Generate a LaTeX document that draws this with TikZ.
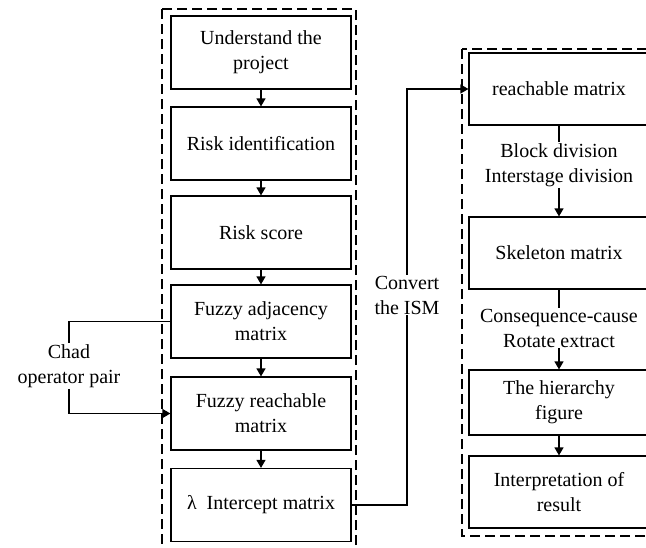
\documentclass[tikz,border=0pt]{standalone}
\usepackage{fontspec}
\setmainfont{Liberation Serif}
\usetikzlibrary{positioning,arrows.meta}

\tikzset{
  stage/.style={draw, line width=1.2pt, minimum width=180pt, minimum height=73pt,
    align=center, inner sep=2pt, font=\fontsize{20}{25}\selectfont},
  note/.style={align=center, inner sep=1pt, font=\fontsize{20}{25}\selectfont},
  link/.style={line width=1.2pt, -{Triangle[length=8pt,width=9pt]}},
  plain/.style={line width=1.2pt},
  frame/.style={line width=1.2pt, dash pattern=on 10pt off 5pt},
}

\begin{document}
\begin{tikzpicture}[x=1pt, y=-1pt]
	\clip (0,0) rectangle (646,547);
	% left column
	\node[stage] (project) at (261,52.5) {Understand the\\project};
	\node[stage] (identify) at (261,143.5) {Risk identification};
	\node[stage] (score) at (261,232.5) {Risk score};
	\node[stage] (adjacency) at (261,321.5) {Fuzzy adjacency\\matrix};
	\node[stage] (fuzzyreach) at (261,413.5) {Fuzzy reachable\\matrix};
	\node[stage] (intercept) at (261,505) {λ\ \ Intercept matrix};
	% right column
	\node[stage, minimum height=72pt] (reach) at (559,89) {reachable matrix};
	\node[stage, minimum height=72pt] (skeleton) at (559,253) {Skeleton matrix};
	\node[stage, minimum height=65pt] (hierarchy) at (559,402.5) {The hierarchy\\figure};
	\node[stage, minimum height=72pt] (result) at (559,492) {Interpretation of\\result};
	% labels on connectors
	\node[note] (chad) at (69,366) {Chad\\operator pair};
	\node[note] (convert) at (407,295) {Convert\\the ISM};
	\node[note] (division) at (559,165) {Block division\\Interstage division};
	\node[note] (consequence) at (559,328) {Consequence-cause\\Rotate extract};
	% dashed frames
	\draw[frame] (162,9) rectangle (356,570);
	\draw[frame] (462,49) rectangle (660,536);
	% connectors
	\draw[link] (project) -- (identify);
	\draw[link] (identify) -- (score);
	\draw[link] (score) -- (adjacency);
	\draw[link] (adjacency) -- (fuzzyreach);
	\draw[link] (fuzzyreach) -- (intercept);
	\draw[plain] (adjacency.west) -| (chad.north);
	\draw[link] (chad.south) |- (fuzzyreach.west);
	\draw[plain] (intercept.east) -| (convert.south);
	\draw[link] (convert.north) |- (reach.west);
	\draw[plain] (reach) -- (division);
	\draw[link] (division) -- (skeleton);
	\draw[plain] (skeleton) -- (consequence);
	\draw[link] (consequence) -- (hierarchy);
	\draw[link] (hierarchy) -- (result);
\end{tikzpicture}
\end{document}
